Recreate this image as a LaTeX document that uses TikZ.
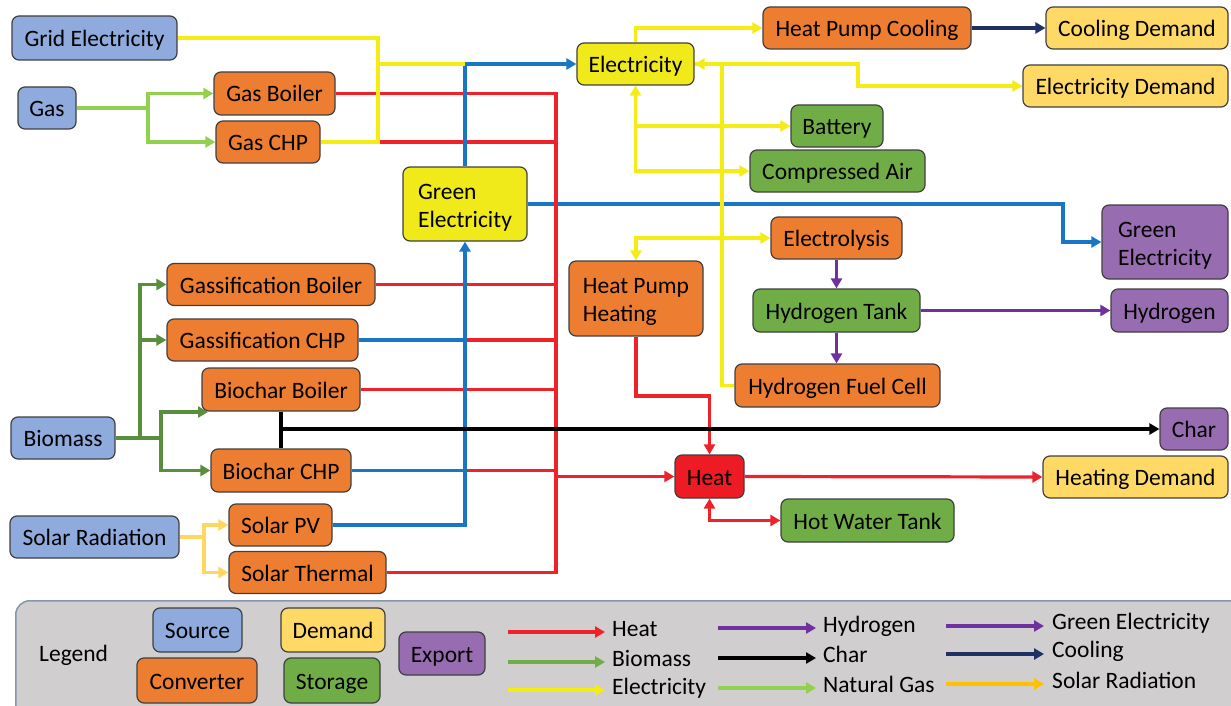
\documentclass[tikz,border=0pt]{standalone}
\usepackage{fontspec}
\setmainfont{Carlito}
\usetikzlibrary{arrows.meta,calc}
\definecolor{bdr}{RGB}{64,64,64}
\definecolor{srcC}{RGB}{143,170,220}
\definecolor{convC}{RGB}{237,125,49}
\definecolor{demC}{RGB}{255,217,102}
\definecolor{storC}{RGB}{112,173,71}
\definecolor{expC}{RGB}{152,108,176}
\definecolor{elecC}{RGB}{240,234,26}
\definecolor{heatC}{RGB}{237,28,36}
\definecolor{redC}{RGB}{238,34,40}
\definecolor{yelC}{RGB}{245,236,22}
\definecolor{bluC}{RGB}{24,118,196}
\definecolor{bioC}{RGB}{88,142,60}
\definecolor{ngC}{RGB}{146,208,80}
\definecolor{purC}{RGB}{112,48,160}
\definecolor{navC}{RGB}{31,48,100}
\definecolor{solC}{RGB}{255,214,96}
\definecolor{solLg}{RGB}{255,192,0}
\definecolor{lgF}{RGB}{208,206,206}
\definecolor{lgB}{RGB}{132,151,176}
\newcommand{\firststrut}{\rule{0pt}{22pt}}
\tikzset{
  box/.style={draw=bdr, line width=1.2pt, rounded corners=7pt, inner sep=0pt, align=center, font=\fontsize{23.5}{28}\selectfont},
  sz/.style 2 args={minimum width=#1pt, minimum height=#2pt, text height=19pt, text depth=2pt},
  szz/.style 2 args={minimum width=#1pt, minimum height=#2pt, align=left},
  src/.style={box, fill=srcC},
  conv/.style={box, fill=convC},
  dem/.style={box, fill=demC},
  stor/.style={box, fill=storC},
  expo/.style={box, fill=expC},
  elecn/.style={box, fill=elecC},
  heatn/.style={box, fill=heatC},
  lbl/.style={anchor=west, inner sep=0pt, font=\fontsize{23.5}{28}\selectfont, text height=16pt, text depth=5pt},
  ln/.style={line width=3.2pt},
  redL/.style={ln, draw=redC},
  yelL/.style={ln, draw=yelC},
  bluL/.style={ln, draw=bluC},
  bioL/.style={ln, draw=bioC},
  ngL/.style={ln, draw=ngC},
  purL/.style={ln, draw=purC},
  navL/.style={line width=3.8pt, draw=navC},
  blkL/.style={line width=3.8pt, draw=black},
  solL/.style={ln, draw=solC},
  >={Triangle[length=10pt,width=11pt]}
}
\begin{document}
\begin{tikzpicture}[x=1pt,y=-1pt]
\useasboundingbox (0,0) rectangle (1231,706);
\clip (0,0) rectangle (1231,706);
\fill[white] (0,0) rectangle (1231,706);
% nodes
\node[src, sz={165}{44}] (gridE) at (94.5,38) {Grid Electricity};
\node[src, sz={58}{42}] (gas) at (47,108) {Gas};
\node[conv, sz={121}{43}] (gasB) at (274.5,93.5) {Gas Boiler};
\node[conv, sz={104}{42}] (gasC) at (268,142) {Gas CHP};
\node[elecn, sz={117}{42}] (elec) at (635.5,64) {Electricity};
\node[conv, sz={208}{42}] (hpc) at (867,28) {Heat Pump Cooling};
\node[dem, sz={182}{42}] (coolD) at (1137,28) {Cooling Demand};
\node[dem, sz={205}{42}] (elecD) at (1125.5,86) {Electricity Demand};
\node[stor, sz={92}{42}] (batt) at (837,126) {Battery};
\node[stor, sz={175}{42}] (cair) at (837.5,171) {Compressed Air};
\node[elecn, szz={124}{74}] (greenE) at (465,204) {\firststrut Green\\Electricity};
\node[expo, szz={126}{74}] (greenX) at (1165,242) {\firststrut Green\\Electricity};
\node[conv, sz={131}{42}] (elys) at (836.5,238) {Electrolysis};
\node[conv, szz={134}{75}] (hph) at (636,298.5) {\firststrut Heat Pump\\Heating};
\node[stor, sz={167}{43}] (h2t) at (836.5,310.5) {Hydrogen Tank};
\node[expo, sz={117}{43}] (h2x) at (1169.5,310.5) {Hydrogen};
\node[conv, sz={205}{43}] (fc) at (837.5,385.5) {Hydrogen Fuel Cell};
\node[expo, sz={68}{42}] (char) at (1194,429) {Char};
\node[heatn, sz={69}{43}] (heat) at (709.5,476.5) {Heat};
\node[dem, sz={185}{42}] (heatD) at (1135.5,477) {Heating Demand};
\node[stor, sz={173}{43}] (hwt) at (867.5,520.5) {Hot Water Tank};
\node[conv, sz={208}{42}] (gfb) at (271,284.5) {Gassification Boiler};
\node[conv, sz={191}{42}] (gfc) at (262.5,340) {Gassification CHP};
\node[conv, sz={158}{43}] (bcb) at (281,389.5) {Biochar Boiler};
\node[conv, sz={140}{43}] (bcc) at (281,470.5) {Biochar CHP};
\node[src, sz={104}{42}] (bio) at (63,438) {Biomass};
\node[src, sz={169}{42}] (solR) at (94.5,537) {Solar Radiation};
\node[conv, sz={103}{42}] (spv) at (280.5,525) {Solar PV};
\node[conv, sz={157}{42}] (sth) at (307.5,572.5) {Solar Thermal};
% junction coordinates
\coordinate (yj) at (378,64);
\coordinate (bj) at (465,64);
\coordinate (rb) at (556,572.5);
\coordinate (bx) at (1063,204);
\coordinate (ex) at (858,64);
\coordinate (fx) at (722,385.5);
\coordinate (hk) at (636,396);
\coordinate (g1) at (140,438);
\coordinate (g2) at (161,438);
\coordinate (bcin) at (208,412);
\coordinate (n1) at (148,108);
\coordinate (s1) at (204,537);
% blue horizontal to export
\draw[bluL,->] (greenE.east) -- (bx) |- (greenX.west);
% red heat lines
\draw[redL] (gasB.east) -| (rb) -- (sth.east);
\draw[redL] (gasC.east) -- (gasC.east -| rb);
\draw[redL] (gfb.east) -- (gfb.east -| rb);
\draw[redL] (gfc.east) -- (gfc.east -| rb);
\draw[redL] (bcb.east) -- (bcb.east -| rb);
\draw[redL] (bcc.east) -- (bcc.east -| rb);
\draw[redL,->] (heat.west -| rb) -- (heat.west);
\draw[redL,->] (hph.south) -- (hk) -| (heat.north);
\draw[redL,->] (heat.east) -- (heatD.west);
\draw[redL,<->] (heat.south) |- (hwt.west);
% blue green electricity
\draw[bluL] (gfc.east) -- (gfc.east -| greenE.south);
\draw[bluL] (bcc.east) -- (bcc.east -| greenE.south);
\draw[bluL,->] (spv.east) -| (greenE.south);
\draw[bluL,->] (greenE.north) |- (elec.west);
% yellow electricity
\draw[yelL] (gridE.east) -| (yj) -- (bj);
\draw[yelL] (gasC.east) -| (yj);
\draw[yelL,->] (elec.north) |- (hpc.west);
\draw[yelL,->] (elec.east) -- (ex) |- (elecD.west);
\draw[yelL,->] (fc.west) -- (fx) |- (elec.east);
\draw[yelL,<->] (elec.south) |- (cair.west);
\draw[yelL,->] (elec.south |- batt.west) -- (batt.west);
\draw[yelL,<->] (hph.north) |- (elys.west);
% cooling
\draw[navL,->] (hpc.east) -- (coolD.west);
% hydrogen
\draw[purL,->] (elys.south) -- (h2t.north);
\draw[purL,->] (h2t.south) -- (h2t.south |- fc.north);
\draw[purL,->] (h2t.east) -- (h2x.west);
% char
\draw[blkL] (bcb.south) -- (bcc.north);
\draw[blkL,->] (bcb.south |- char.west) -- (char.west);
% biomass
\draw[bioL] (bio.east) -- (g2);
\draw[bioL,->] (g1) |- (gfb.west);
\draw[bioL,->] (g1) |- (gfc.west);
\draw[bioL,->] (g2) |- (bcin);
\draw[bioL,->] (g2) |- (bcc.west);
% natural gas
\draw[ngL] (gas.east) -- (n1);
\draw[ngL,->] (n1) |- (gasB.west);
\draw[ngL,->] (n1) |- (gasC.west);
% solar
\draw[solL] (solR.east) -- (s1);
\draw[solL,->] (s1) |- (spv.west);
\draw[solL,->] (s1) |- (sth.west);
% legend
\node[draw=lgB, fill=lgF, line width=1.5pt, rounded corners=14pt, minimum width=1240pt, minimum height=120pt, anchor=north west, inner sep=0pt] (lg) at (15,600) {};
\node[lbl] (lgT) at (39,656) {Legend};
\node[src, sz={89}{44}] (lsrc) at (197.5,630) {Source};
\node[conv, sz={120}{45}] (lconv) at (197,680.5) {Converter};
\node[dem, sz={104}{44}] (ldem) at (333,630) {Demand};
\node[stor, sz={96}{45}] (lsto) at (332,680.5) {Storage};
\node[expo, sz={86}{43}] (lexp) at (442,653.5) {Export};
\node[lbl] (lHeat) at (612,631) {Heat};
\node[lbl] (lBio) at (612,661) {Biomass};
\node[lbl] (lEl) at (612,689) {Electricity};
\node[lbl] (lH2) at (823,627) {Hydrogen};
\node[lbl] (lChar) at (823,657) {Char};
\node[lbl] (lNG) at (823,687) {Natural Gas};
\node[lbl] (lGE) at (1052,624) {Green Electricity};
\node[lbl] (lCool) at (1052,652) {Cooling};
\node[lbl] (lSol) at (1052,683) {Solar Radiation};
\draw[redL,->] ($(lHeat.west)+(-104,1)$) -- ($(lHeat.west)+(-7,1)$);
\draw[bioL,draw=storC,->] ($(lBio.west)+(-104,1)$) -- ($(lBio.west)+(-7,1)$);
\draw[yelL,->] ($(lEl.west)+(-104,1)$) -- ($(lEl.west)+(-7,1)$);
\draw[purL,->] ($(lH2.west)+(-105,1)$) -- ($(lH2.west)+(-7,1)$);
\draw[blkL,->] ($(lChar.west)+(-105,1)$) -- ($(lChar.west)+(-7,1)$);
\draw[ngL,->] ($(lNG.west)+(-105,1)$) -- ($(lNG.west)+(-7,1)$);
\draw[purL,->] ($(lGE.west)+(-106,2)$) -- ($(lGE.west)+(-8,2)$);
\draw[navL,->] ($(lCool.west)+(-106,2)$) -- ($(lCool.west)+(-8,2)$);
\draw[solL,draw=solLg,->] ($(lSol.west)+(-106,1)$) -- ($(lSol.west)+(-8,1)$);
\end{tikzpicture}
\end{document}
